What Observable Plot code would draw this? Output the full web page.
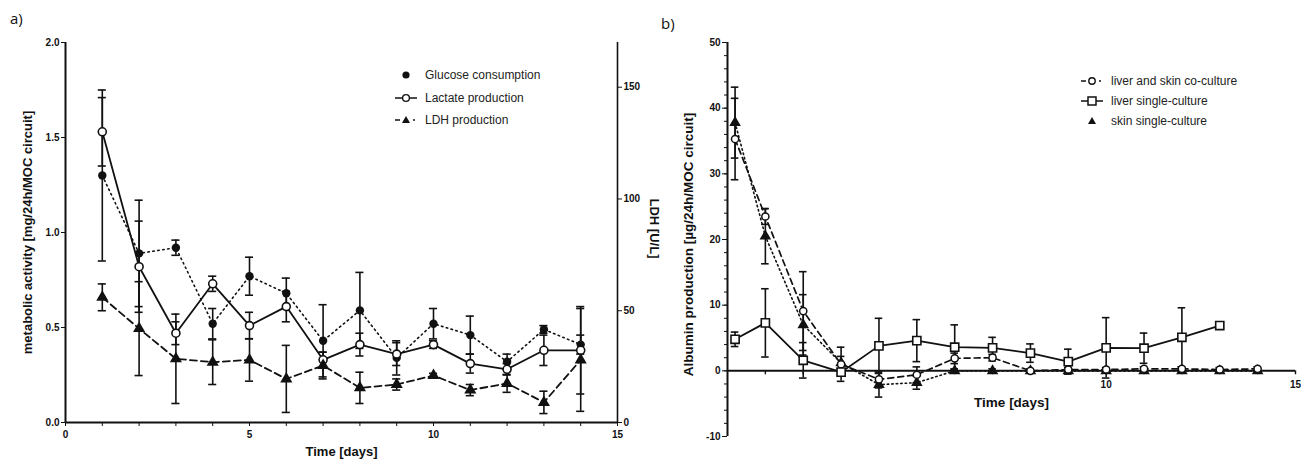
<!DOCTYPE html>
<html><head><meta charset="utf-8">
<script src="https://cdn.jsdelivr.net/npm/d3@7"></script>
<script src="https://cdn.jsdelivr.net/npm/@observablehq/plot@0.6"></script>
<style>
body{margin:0;background:#fff;}
#wrap{position:relative;width:1301px;height:462px;overflow:hidden;font-family:"Liberation Sans",Arial,sans-serif;background:#fff;}
#pa,#pb{position:absolute;top:0;}
#pa{left:0}
#pb{left:672px}
.lab{position:absolute;font-family:"Open Sans","Liberation Sans",sans-serif;font-size:15px;color:#111;}
.leg{position:absolute;font-size:12px;color:#222;display:flex;align-items:center;height:16px;white-space:nowrap;}
.leg svg{width:24px;height:16px;margin-right:7px;overflow:visible}
</style></head>
<body><div id="wrap"><div id="pa"></div><div id="pb"></div></div>
<script>
// ---------- Panel a data ----------
const days = [1,2,3,4,5,6,7,8,9,10,11,12,13,14];
const glucose    = [1.30,0.89,0.92,0.52,0.77,0.68,0.43,0.59,0.34,0.52,0.46,0.32,0.49,0.41];
const glucoseErr = [0.45,0.28,0.04,0.08,0.10,0.08,0.19,0.20,0.09,0.08,0.10,0.04,0.02,0.05];
const lactate    = [1.53,0.82,0.47,0.73,0.51,0.61,0.33,0.41,0.36,0.41,0.31,0.28,0.38,0.38];
const lactateErr = [0.18,0.24,0.06,0.04,0.07,0.08,0.04,0.06,0.06,0.02,0.05,0.03,0.08,0.23];
const ldh        = [56,42,28.5,27,28,19.5,25.5,15.5,17,21,14.5,17.5,9,28];   // U/L (right axis)
const ldhErr     = [6,21,20,10,9.5,15,6,7,2.5,1,2.5,4,5,23];
const LDH_PER_UNIT = 85; // 170 U/L on the right axis spans 0–2.0 on the left axis
const ldhTicks = [0,50,100,150];

// ---------- Panel b data ----------
const timeB      = [0.2,1,2,3,4,5,6,7,8,9,10,11,12,13,14];
const coculture  = [35.3,23.5,9.1,1.0,-1.3,-0.6,1.9,2.0,0.0,0.2,0.2,0.3,0.3,0.2,0.3];
const cocultErr  = [6.2,1.2,6.0,2.6,1.3,1.2,0.8,0.5,0.3,0.3,0.3,0.3,0.3,0.3,0.3];
const liver      = [4.8,7.3,1.6,-0.2,3.8,4.6,3.6,3.5,2.7,1.4,3.5,3.45,5.1,6.9];
const liverErr   = [1.1,5.2,2.7,0.5,4.2,3.2,3.4,1.6,1.4,1.9,4.6,2.3,4.5,0];
const skin       = [37.8,20.5,7.0,1.2,-2.1,-1.8,0,0,0,0,0,0,0,0,0];
const skinErr    = [5.4,4.2,4.6,1.0,1.9,1.0,0.3,0.3,0,0,0,0,0,0,0];

const INK = "#111";
const font = {fontFamily:"'Liberation Sans', Arial, sans-serif", fontSize:"10px", fontWeight:"bold", color:INK, background:"transparent", overflow:"visible"};

function series(xs, ys, es, scale=1){ return xs.slice(0, ys.length).map((x,i)=>({x, y: ys[i]/scale, e: es[i]/scale})); }
function errMarks(data, cap){
  return [
    Plot.ruleX(data.filter(d=>d.e>0), {x:"x", y1:d=>d.y-d.e, y2:d=>d.y+d.e, stroke:INK, strokeWidth:1.6}),
    Plot.ruleY(data.filter(d=>d.e>0), {y:d=>d.y+d.e, x1:d=>d.x-cap, x2:d=>d.x+cap, stroke:INK, strokeWidth:1.6}),
    Plot.ruleY(data.filter(d=>d.e>0), {y:d=>d.y-d.e, x1:d=>d.x-cap, x2:d=>d.x+cap, stroke:INK, strokeWidth:1.6})
  ];
}

// ---------- Panel a ----------
const gl = series(days, glucose, glucoseErr);
const la = series(days, lactate, lactateErr);
const ld = series(days, ldh, ldhErr, LDH_PER_UNIT);

const pa = Plot.plot({
  width:672, height:462, marginLeft:65, marginRight:55, marginTop:42, marginBottom:40,
  style: font,
  x:{domain:[0,15], axis:null}, y:{domain:[0,2], axis:null},
  marks:[
    Plot.axisY({ticks:[0,0.5,1,1.5,2], tickFormat:d3.format(".1f"), tickSize:4, tickPadding:2, label:null, fontWeight:"bold"}),
    Plot.axisY(ldhTicks.map(v=>v/LDH_PER_UNIT), {anchor:"right", tickFormat:d=>String(Math.round(d*LDH_PER_UNIT)), tickSize:4, tickPadding:2, label:null, fontWeight:"bold"}),
    Plot.axisX({ticks:[0,5,10,15], tickSize:4, tickPadding:4, label:null, fontWeight:"bold"}),
    Plot.axisX({ticks:d3.range(0,16), tickSize:4, tickFormat:()=>"", label:null}),
    Plot.ruleY([0], {stroke:INK, strokeWidth:2}),
    Plot.ruleX([0], {stroke:INK, strokeWidth:2}),
    Plot.ruleX([15], {stroke:INK, strokeWidth:1.6}),
    ...errMarks(gl, 0.11), ...errMarks(la, 0.11), ...errMarks(ld, 0.11),
    Plot.line(gl, {x:"x", y:"y", stroke:INK, strokeWidth:1.6, strokeDasharray:"1.5,3.5", strokeLinecap:"round"}),
    Plot.line(la, {x:"x", y:"y", stroke:INK, strokeWidth:1.8}),
    Plot.line(ld, {x:"x", y:"y", stroke:INK, strokeWidth:1.8, strokeDasharray:"7,4"}),
    Plot.dot(gl, {x:"x", y:"y", r:4.2, fill:INK}),
    Plot.dot(la, {x:"x", y:"y", r:4, fill:"#fff", stroke:INK, strokeWidth:1.6}),
    Plot.dot(ld, {x:"x", y:"y", r:4.5, symbol:"triangle", fill:INK}),
    Plot.text(["metabolic activity [mg/24h/MOC circuit]"], {frameAnchor:"left", textAnchor:"middle", dx:-38, rotate:-90, fontSize:13, fontWeight:"bold", fill:INK}),
    Plot.text(["LDH [U/L]"], {frameAnchor:"right", textAnchor:"middle", dx:37, dy:-4, rotate:90, fontSize:13, fontWeight:"bold", fill:INK}),
    Plot.text(["Time [days]"], {frameAnchor:"bottom", dy:33, fontSize:13, fontWeight:"bold", fill:INK})
  ]
});
document.getElementById("pa").append(pa);

// ---------- Panel b ----------
const co = series(timeB, coculture, cocultErr);
const li = series(timeB, liver, liverErr);
const sk = series(timeB, skin, skinErr);

const pb = Plot.plot({
  width:629, height:462, marginLeft:55, marginRight:6, marginTop:42, marginBottom:26,
  style: font,
  x:{domain:[0,15], axis:null}, y:{domain:[-10,50], axis:null},
  marks:[
    Plot.axisY({ticks:d3.range(-10,51,10), tickFormat:d=>String(d), tickSize:5, tickPadding:2, label:null, fontWeight:"bold"}),
    Plot.axisY({ticks:d3.range(-10,51,2), tickFormat:()=>"", tickSize:3, label:null}),
    Plot.ruleX([0], {stroke:INK, strokeWidth:2}),
    Plot.ruleY([0], {stroke:INK, strokeWidth:2}),
    Plot.ruleX(d3.range(1,16), {x:d=>d, y1:0, y2:-0.6, stroke:INK, strokeWidth:1.4}),
    Plot.text([10,15], {x:d=>d, y:0, dy:14, text:d=>String(d), fontWeight:"bold", fill:INK}),
    ...errMarks(co, 0.1), ...errMarks(li, 0.1), ...errMarks(sk, 0.1),
    Plot.line(sk, {x:"x", y:"y", stroke:INK, strokeWidth:1.6, strokeDasharray:"1.5,3", strokeLinecap:"round"}),
    Plot.line(co, {x:"x", y:"y", stroke:INK, strokeWidth:1.7, strokeDasharray:"6,4"}),
    Plot.line(li, {x:"x", y:"y", stroke:INK, strokeWidth:1.8}),
    Plot.dot(sk, {x:"x", y:"y", r:4.3, symbol:"triangle", fill:INK}),
    Plot.dot(co, {x:"x", y:"y", r:3.6, fill:"#fff", stroke:INK, strokeWidth:1.5}),
    Plot.dot(li, {x:"x", y:"y", r:4.6, symbol:"square", fill:"#fff", stroke:INK, strokeWidth:1.6}),
    Plot.text(["Albumin production [µg/24h/MOC circuit]"], {frameAnchor:"left", textAnchor:"middle", dx:-39, dy:5, rotate:-90, fontSize:13.5, fontWeight:"bold", fill:INK}),
    Plot.text(["Time [days]"], {x:7.5, y:0, dy:32, fontSize:13.5, fontWeight:"bold", fill:INK})
  ]
});
document.getElementById("pb").append(pb);

// ---------- Panel labels & legends ----------
const wrap = document.getElementById("wrap");
function addLabel(text, left, top){
  const d = document.createElement("div"); d.className="lab"; d.textContent=text;
  d.style.left=left+"px"; d.style.top=top+"px"; wrap.append(d);
}
addLabel("a)", 10, 8);
addLabel("b)", 661, 13);

const legendA = ["Glucose consumption","Lactate production","LDH production"];
const legendB = ["liver and skin co-culture","liver single-culture","skin single-culture"];
const symGlucose = `<circle cx="12" cy="8" r="3.6" fill="${INK}"/>`;
const symLactate = `<line x1="1" y1="8" x2="23" y2="8" stroke="${INK}" stroke-width="1.5"/><circle cx="12" cy="8" r="3.4" fill="#fff" stroke="${INK}" stroke-width="1.4"/>`;
const symLDH = `<line x1="1" y1="8" x2="6" y2="8" stroke="${INK}" stroke-width="1.5"/><line x1="19" y1="8" x2="21" y2="8" stroke="${INK}" stroke-width="1.5"/><path d="M12,4 L16,11 L8,11 Z" fill="${INK}"/>`;
const symCo = `<line x1="1" y1="8" x2="6" y2="8" stroke="${INK}" stroke-width="1.5"/><line x1="19" y1="8" x2="21" y2="8" stroke="${INK}" stroke-width="1.5"/><circle cx="12" cy="8" r="3.2" fill="#fff" stroke="${INK}" stroke-width="1.4"/>`;
const symLiver = `<line x1="1" y1="8" x2="23" y2="8" stroke="${INK}" stroke-width="1.5"/><rect x="8" y="4" width="8" height="8" fill="#fff" stroke="${INK}" stroke-width="1.5"/>`;
const symSkin = `<path d="M12,4 L16,11 L8,11 Z" fill="${INK}"/>`;

function addLegend(labels, syms, left, tops){
  labels.forEach((t,i)=>{
    const d = document.createElement("div"); d.className="leg";
    d.style.left=left+"px"; d.style.top=tops[i]+"px";
    d.innerHTML = `<svg viewBox="0 0 24 16">${syms[i]}</svg><span>${t}</span>`;
    wrap.append(d);
  });
}
addLegend(legendA, [symGlucose, symLactate, symLDH], 394, [67, 90, 112]);
addLegend(legendB, [symCo, symLiver, symSkin], 1080, [73, 93, 113]);
</script>
</body></html>
